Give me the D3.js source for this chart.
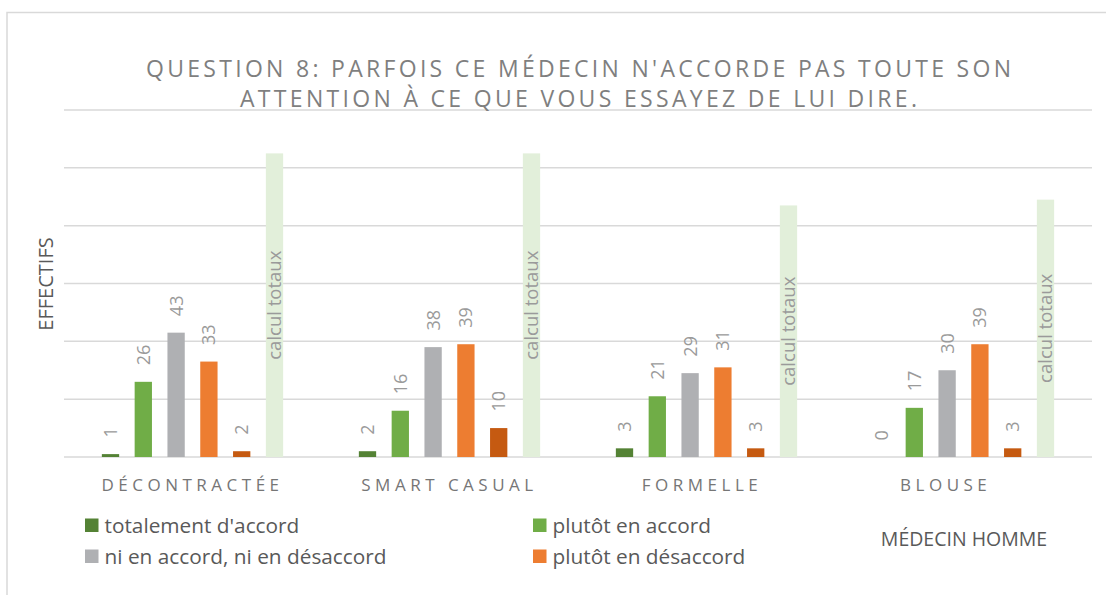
<!DOCTYPE html>
<html>
<head>
<meta charset="utf-8">
<script src="https://cdn.jsdelivr.net/npm/d3@7"></script>
<style>
  html, body { margin: 0; padding: 0; background: #fff; }
  svg { display: block; font-family: "Open Sans", "Noto Sans", sans-serif; }
  .pre { white-space: pre; }
</style>
</head>
<body>
<svg id="chart" width="1106" height="595"></svg>
<script>
// ---- Data ----
const categories = ["DÉCONTRACTÉE", "SMART CASUAL", "FORMELLE ", "BLOUSE    "];
const seriesNames = ["totalement d'accord", "plutôt en accord", "ni en accord, ni en désaccord",
                     "plutôt en désaccord", "totalement en désaccord", "calcul totaux"];
const totalementAccord    = [1, 2, 3, 0];
const plutotAccord        = [26, 16, 21, 17];
const niAccordNiDesaccord = [43, 38, 29, 30];
const plutotDesaccord     = [33, 39, 31, 39];
const totalementDesaccord = [2, 10, 3, 3];
const calculTotaux        = [105, 105, 87, 89];
const yTicks = [0, 20, 40, 60, 80, 100, 120];
const legendNames = ["totalement d'accord", "plutôt en accord", "ni en accord, ni en désaccord", "plutôt en désaccord"];
const titleLines = ["QUESTION 8: PARFOIS CE MÉDECIN N'ACCORDE PAS TOUTE SON",
                    "ATTENTION À CE QUE VOUS ESSAYEZ DE LUI DIRE."];
const yAxisTitle = "EFFECTIFS";
const subLabel = "MÉDECIN HOMME";

const seriesValues = [totalementAccord, plutotAccord, niAccordNiDesaccord,
                      plutotDesaccord, totalementDesaccord, calculTotaux];
const colors = ["#548235", "#70AD47", "#AFB0B3", "#ED7D31", "#C55A11", "#E2EFDA"];

// ---- Layout ----
const svg = d3.select("#chart");
const plot = { left: 64, right: 1092, top: 110, bottom: 457 };

svg.append("rect")
  .attr("x", 7).attr("y", 12.5).attr("width", 1110).attr("height", 600)
  .attr("fill", "#fff").attr("stroke", "#d9d9d9").attr("stroke-width", 1.5);

const x0 = d3.scaleBand().domain(categories).range([plot.left, plot.right]).padding(0);
const x1 = d3.scaleBand().domain(seriesNames).range([0, x0.bandwidth()])
  .paddingInner(0.4726).paddingOuter(1.154);
const y = d3.scaleLinear().domain([0, 120]).range([plot.bottom, plot.top]);

// gridlines
svg.append("g").selectAll("line").data(yTicks).join("line")
  .attr("x1", plot.left).attr("x2", plot.right)
  .attr("y1", d => y(d)).attr("y2", d => y(d))
  .attr("stroke", "#d9d9d9").attr("stroke-width", 1.5);

// bars
const flat = [];
categories.forEach((c, ci) => {
  seriesNames.forEach((s, si) => {
    flat.push({ cat: c, series: s, si: si, value: seriesValues[si][ci] });
  });
});

svg.append("g").selectAll("rect").data(flat).join("rect")
  .attr("x", d => x0(d.cat) + x1(d.series))
  .attr("y", d => y(d.value))
  .attr("width", x1.bandwidth())
  .attr("height", d => y(0) - y(d.value))
  .attr("fill", d => colors[d.si]);

// data labels
const labelColor = "#9a9a9a";
svg.append("g").selectAll("text").data(flat.filter(d => d.si < 5)).join("text")
  .attr("transform", d => {
    const cx = x0(d.cat) + x1(d.series) + x1.bandwidth() / 2;
    return `translate(${cx},${y(d.value) - 16.5}) rotate(-90)`;
  })
  .attr("dy", "0.36em")
  .attr("text-anchor", "start")
  .attr("font-size", 18)
  .attr("fill", labelColor)
  .text(d => d.value);

svg.append("g").selectAll("text").data(flat.filter(d => d.si === 5)).join("text")
  .attr("transform", d => {
    const cx = x0(d.cat) + x1(d.series) + x1.bandwidth() / 2;
    return `translate(${cx},${(y(d.value) + y(0)) / 2}) rotate(-90)`;
  })
  .attr("dy", "0.36em")
  .attr("text-anchor", "middle")
  .attr("font-size", 18.5)
  .attr("fill", labelColor)
  .text("calcul totaux");

// category axis
const xAxis = svg.append("g")
  .attr("transform", `translate(0,${plot.bottom})`)
  .call(d3.axisBottom(x0).tickSize(0));
xAxis.select(".domain").remove();
xAxis.selectAll("text")
  .attr("class", "pre")
  .attr("y", 34).attr("dy", 0)
  .attr("font-family", "'Open Sans', sans-serif")
  .attr("font-size", 17)
  .attr("letter-spacing", "4.5px")
  .attr("fill", "#767676");

// title
svg.append("g").selectAll("text").data(titleLines).join("text")
  .attr("x", (d, i) => i === 0 ? 146 : 240)
  .attr("y", (d, i) => i === 0 ? 77 : 107)
  .attr("textLength", (d, i) => i === 0 ? 865 : 677)
  .attr("lengthAdjust", "spacing")
  .attr("font-size", 23)
  .attr("fill", "#7f7f7f")
  .text(d => d);

// y axis title
svg.append("text")
  .attr("transform", `translate(52.5,284) rotate(-90)`)
  .attr("text-anchor", "middle")
  .attr("font-size", 20)
  .attr("fill", "#595959")
  .text(yAxisTitle);

// legend
const legendPos = [[85, 518.5], [533, 518.5], [85, 549.5], [533, 549.5]];
const lg = svg.append("g").selectAll("g").data(legendNames).join("g")
  .attr("transform", (d, i) => `translate(${legendPos[i][0]},${legendPos[i][1]})`);
lg.append("rect").attr("width", 13.5).attr("height", 13.5)
  .attr("fill", d => colors[seriesNames.indexOf(d)]);
lg.append("text").attr("x", 19.5).attr("y", 14)
  .attr("font-size", 20.8).attr("fill", "#595959").text(d => d);

// sub label
svg.append("text")
  .attr("x", 964).attr("y", 546)
  .attr("text-anchor", "middle")
  .attr("font-size", 19.5)
  .attr("fill", "#595959")
  .text(subLabel);
</script>
</body>
</html>
